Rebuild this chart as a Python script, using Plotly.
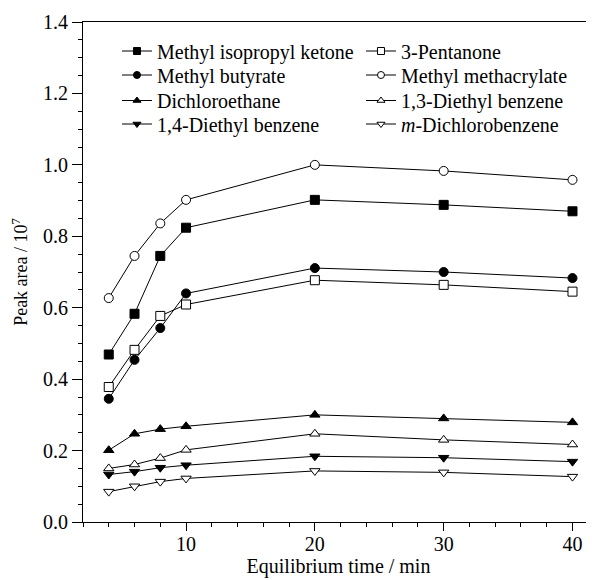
import plotly.graph_objects as go

time_min = [4, 6, 8, 10, 20, 30, 40]

methyl_isopropyl_ketone = [0.469, 0.583, 0.745, 0.824, 0.902, 0.888, 0.870]
pentanone_3 = [0.378, 0.482, 0.577, 0.609, 0.677, 0.664, 0.645]
methyl_butyrate = [0.345, 0.454, 0.543, 0.640, 0.711, 0.700, 0.683]
methyl_methacrylate = [0.627, 0.745, 0.836, 0.902, 1.000, 0.983, 0.958]
dichloroethane = [0.201, 0.247, 0.260, 0.268, 0.300, 0.290, 0.279]
diethyl_benzene_13 = [0.150, 0.161, 0.179, 0.202, 0.247, 0.230, 0.217]
diethyl_benzene_14 = [0.133, 0.141, 0.152, 0.159, 0.184, 0.180, 0.169]
m_dichlorobenzene = [0.085, 0.100, 0.113, 0.122, 0.143, 0.139, 0.127]

# name, values, symbol, filled, legend column, legend row
series = [
    ("Methyl isopropyl ketone", methyl_isopropyl_ketone, "square", True, 0, 0),
    ("Methyl butyrate", methyl_butyrate, "circle", True, 0, 1),
    ("Dichloroethane", dichloroethane, "triangle-up", True, 0, 2),
    ("1,4-Diethyl benzene", diethyl_benzene_14, "triangle-down", True, 0, 3),
    ("3-Pentanone", pentanone_3, "square", False, 1, 0),
    ("Methyl methacrylate", methyl_methacrylate, "circle", False, 1, 1),
    ("1,3-Diethyl benzene", diethyl_benzene_13, "triangle-up", False, 1, 2),
    ("<i>m</i>-Dichlorobenzene", m_dichlorobenzene, "triangle-down", False, 1, 3),
]

FONT = "Liberation Serif"
col_x = [0.0665, 0.544]
row_y = [0.942, 0.894, 0.843, 0.796]

fig = go.Figure()
legends = {}
for i, (name, vals, sym, filled, col, row) in enumerate(series):
    fill = "black" if filled else "white"
    lg = "legend" if i == 0 else "legend%d" % (i + 1)
    fig.add_trace(go.Scatter(
        x=time_min, y=vals, mode="lines+markers", showlegend=False,
        line=dict(color="black", width=1),
        marker=dict(symbol=sym, size=9, color=fill, line=dict(color="black", width=1)),
    ))
    fig.add_trace(go.Scatter(
        x=[None], y=[None], mode="lines+markers", name=name, legend=lg,
        line=dict(color="black", width=1),
        marker=dict(symbol=sym, size=7, color=fill, line=dict(color="black", width=1)),
    ))
    legends[lg] = dict(
        x=col_x[col], y=row_y[row], xanchor="left", yanchor="middle",
        font=dict(family=FONT, size=20, color="black"), bgcolor="rgba(0,0,0,0)",
        borderwidth=0, itemwidth=30,
    )

fig.update_layout(
    width=586, height=572,
    margin=dict(l=75, r=0, t=13.5, b=58.3),
    paper_bgcolor="white", plot_bgcolor="white",
    font=dict(family=FONT, size=20, color="black"),
    xaxis=dict(
        range=[2, 41.67], tick0=0, dtick=10, ticks="outside", ticklen=8, tickwidth=1,
        tickcolor="black", showline=True, linecolor="black", linewidth=1, mirror=True,
        showgrid=False, zeroline=False, ticklabelstandoff=-4,
        minor=dict(dtick=2, tick0=0, ticks="outside", ticklen=4, tickcolor="black", showgrid=False),
        title=dict(text="Equilibrium time / min", font=dict(family=FONT, size=20, color="black"), standoff=0),
        tickfont=dict(family=FONT, size=20, color="black"), automargin=False,
    ),
    yaxis=dict(
        range=[0, 1.4], tick0=0, dtick=0.2, tickformat=".1f", ticks="outside", ticklen=10,
        tickwidth=1, tickcolor="black", showline=True, linecolor="black", linewidth=1,
        showgrid=False, zeroline=False,
        minor=dict(dtick=0.05, tick0=0, ticks="outside", ticklen=4, tickcolor="black", showgrid=False),
        title=dict(text="Peak area / 10<sup>7</sup>", font=dict(family=FONT, size=18, color="black"), standoff=10),
        tickfont=dict(family=FONT, size=20, color="black"), automargin=False,
    ),
    **legends,
)

fig.write_html("out.html")
